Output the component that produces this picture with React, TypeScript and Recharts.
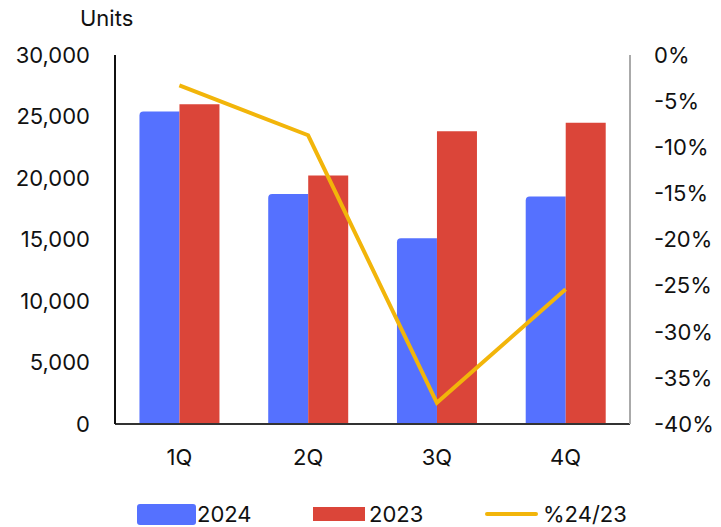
import { ComposedChart, Bar, Line, XAxis, YAxis, Legend } from "recharts";

const quarters = ["1Q", "2Q", "3Q", "4Q"];
const units2024 = [25400, 18700, 15100, 18500];
const units2023 = [26000, 20200, 23800, 24500];
const pctChange = [-3.3, -8.7, -37.7, -25.4];

const leftTicks = [0, 5000, 10000, 15000, 20000, 25000, 30000];
const rightTicks = [-40, -35, -30, -25, -20, -15, -10, -5, 0];

const BLUE = "#5571FF";
const RED = "#DB4539";
const YELLOW = "#F2B50A";
const FONT = "Inter, 'Noto Sans', sans-serif";

const data = quarters.map((q, i) => ({
  q,
  y2024: units2024[i],
  y2023: units2023[i],
  pct: pctChange[i],
}));

const tickStyle = { fill: "#111", fontSize: 22, fontFamily: FONT };

function ChartLegend() {
  const item = { display: "flex", alignItems: "center", fontSize: 22, color: "#111", fontFamily: FONT };
  return (
    <div style={{ position: "absolute", top: 501, left: 0, width: 721, height: 26 }}>
      <div style={{ ...item, position: "absolute", left: 137 }}>
        <span style={{ width: 59, height: 21, background: BLUE, borderRadius: 3, display: "inline-block" }} />
        <span style={{ marginLeft: 1 }}>2024</span>
      </div>
      <div style={{ ...item, position: "absolute", left: 313 }}>
        <span style={{ width: 52, height: 14, background: RED, display: "inline-block" }} />
        <span style={{ marginLeft: 4 }}>2023</span>
      </div>
      <div style={{ ...item, position: "absolute", left: 485 }}>
        <span style={{ width: 53, height: 4, background: YELLOW, borderRadius: 2, display: "inline-block" }} />
        <span style={{ marginLeft: 5 }}>%24/23</span>
      </div>
    </div>
  );
}

export default function App() {
  return (
    <div style={{ position: "fixed", left: 0, top: 0, width: 721, height: 527, background: "#fff" }}>
      <div style={{ position: "absolute", left: 80, top: 5, fontSize: 22, fontFamily: FONT, color: "#111" }}>
        Units
      </div>
      <ComposedChart
        width={721}
        height={527}
        data={data}
        margin={{ top: 55, right: 0, bottom: 0, left: 0 }}
        barCategoryGap="19%"
        barGap={0}
      >
        <XAxis
          dataKey="q"
          axisLine={{ stroke: "#333", strokeWidth: 2 }}
          tickLine={false}
          tickSize={0}
          tickMargin={25}
          tick={tickStyle}
          height={103}
        />
        <YAxis
          yAxisId="left"
          width={115}
          domain={[0, 30000]}
          ticks={leftTicks}
          tickFormatter={(v: number) => v.toLocaleString("en-US")}
          axisLine={{ stroke: "#111", strokeWidth: 2 }}
          tickLine={false}
          tickSize={0}
          tickMargin={25}
          tick={tickStyle}
          interval={0}
        />
        <YAxis
          yAxisId="right"
          orientation="right"
          width={91}
          domain={[-40, 0]}
          ticks={rightTicks}
          tickFormatter={(v: number) => `${v}%`}
          axisLine={{ stroke: "#aaa", strokeWidth: 2 }}
          tickLine={false}
          tickSize={0}
          tickMargin={24}
          tick={{ ...tickStyle, textAnchor: "start" }}
          interval={0}
        />
        <Bar yAxisId="left" dataKey="y2024" fill={BLUE} radius={[4, 0, 0, 0]} isAnimationActive={false} />
        <Bar yAxisId="left" dataKey="y2023" fill={RED} isAnimationActive={false} />
        <Line
          yAxisId="right"
          dataKey="pct"
          stroke={YELLOW}
          strokeWidth={4}
          dot={false}
          activeDot={false}
          isAnimationActive={false}
        />
        <Legend content={() => null} />
      </ComposedChart>
      <ChartLegend />
    </div>
  );
}
